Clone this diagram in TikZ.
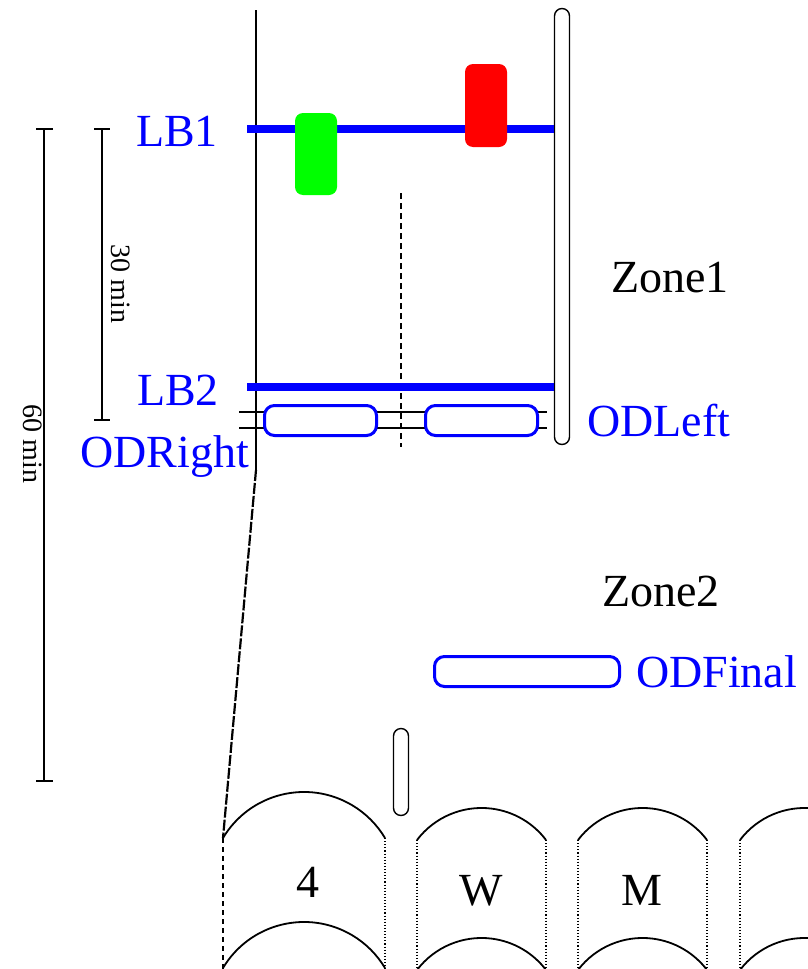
\documentclass[tikz,border=0pt]{standalone}
\usepackage{fontspec}
\setmainfont{Liberation Serif}
\begin{document}
\begin{tikzpicture}[x=1pt,y=-1pt,
  bluelbl/.style={text=blue, font=\fontsize{46}{55}\selectfont, inner sep=0pt, anchor=base west},
  zonelbl/.style={text=black, font=\fontsize{46}{55}\selectfont, inner sep=0pt, anchor=base west},
  celllbl/.style={text=black, font=\fontsize{46}{55}\selectfont, inner sep=0pt, anchor=base},
  dimlbl/.style={text=black, font=\fontsize{28}{32}\selectfont, inner sep=0pt, rotate=-90},
  thinline/.style={draw=black, line width=1.1pt},
  bluebar/.style={draw=blue, line width=7.5pt},
  oval/.style={draw=blue, line width=3pt, fill=white, rounded corners=10pt},
  pill/.style={draw=black, line width=1.4pt, fill=white, rounded corners=7.5pt},
  marker/.style={rounded corners=8pt},
  cellarc/.style={draw=black, line width=1.8pt},
  cellside/.style={draw=black, line width=1.1pt, dotted},
]
\useasboundingbox (0,0) rectangle (808,969);
\clip (0,0) rectangle (808,969);

% coordinates
\coordinate (topL) at (256,10);
\coordinate (bendL) at (256,470);
\coordinate (cellA) at (223,838);

% left vertical guide and slanted line to cell 1
\draw[thinline] (topL) -- (bendL);
\draw[draw=black, line width=2.2pt, dash pattern=on 11pt off 2pt] (bendL) -- (cellA);

% dashed middle line
\coordinate (midT) at (401,193);
\coordinate (midB) at (401,447);
\draw[thinline, dash pattern=on 6pt off 4pt] (midT) -- (midB);

% double black lines under OD ovals
\coordinate (dl1a) at (239,412); \coordinate (dl1b) at (547,412);
\coordinate (dl2a) at (239,428); \coordinate (dl2b) at (547,428);
\draw[thinline] (dl1a) -- (dl1b);
\draw[thinline] (dl2a) -- (dl2b);

% right pill
\draw[pill] (554.5,8.5) rectangle (569.5,444.5);

% blue bars
\coordinate (lb1a) at (247,129); \coordinate (lb1b) at (554,129);
\coordinate (lb2a) at (247,387); \coordinate (lb2b) at (554,387);
\draw[bluebar] (lb1a) -- (lb1b);
\draw[bluebar] (lb2a) -- (lb2b);

% green and red markers
\fill[marker, fill={rgb,255:red,0;green,255;blue,0}] (295,113) rectangle (337,195);
\fill[marker, fill={rgb,255:red,255;green,0;blue,0}] (465,64) rectangle (507,147);

% OD ovals
\draw[oval] (264.5,405.5) rectangle (376.5,435.5);
\draw[oval] (425.5,405.5) rectangle (537.5,435.5);
\draw[oval] (434.5,656.5) rectangle (619.5,686.5);

% small pill
\draw[pill] (393.5,728.5) rectangle (408.5,815.5);

% labels
\node[bluelbl] (LB1) at (136,146) {LB1};
\node[bluelbl] (LB2) at (137,405) {LB2};
\node[bluelbl] (ODRight) at (80,467) {ODRight};
\node[bluelbl] (ODLeft) at (587,436) {ODLeft};
\node[bluelbl] (ODFinal) at (636,687) {ODFinal};
\node[zonelbl] (Zone1) at (611,292) {Zone1};
\node[zonelbl] (Zone2) at (602,606) {Zone2};

% dimension bars
\coordinate (d30t) at (102,129); \coordinate (d30b) at (102,420);
\draw[thinline] (d30t) -- (d30b);
\draw[thinline] (94,129) -- (110,129);
\draw[thinline] (94,420) -- (110,420);
\node[dimlbl] (t30) at (121,284) {30 min};

\coordinate (d60t) at (44,129); \coordinate (d60b) at (44,781);
\draw[thinline] (d60t) -- (d60b);
\draw[thinline] (36,129) -- (53,129);
\draw[thinline] (36,781) -- (53,781);
\node[dimlbl] (t60) at (33,444) {60 min};

% cell 1
\draw[cellarc] (223,838) arc[start angle=210.8, end angle=329.2, radius=94.3];
\draw[cellarc] (223,968) arc[start angle=210.8, end angle=329.2, radius=94.3];
\draw[draw=black, line width=1.1pt, dash pattern=on 5pt off 4pt] (223,838) -- (223,969);
\draw[cellside] (385,838) -- (385,969);
\node[celllbl] (c4) at (308,897) {4};

% cells 2-4
\foreach \dx in {0,161,323} {
  \begin{scope}[xshift=\dx]
    \draw[cellarc] (417,840) arc[start angle=217.2, end angle=322.8, radius=81];
    \draw[cellarc] (417,970) arc[start angle=217.2, end angle=322.8, radius=81];
    \draw[cellside] (417,840) -- (417,969);
    \draw[cellside] (546,840) -- (546,969);
  \end{scope}
}
\node[celllbl] (cW) at (481,905) {W};
\node[celllbl] (cM) at (642,905) {M};
\end{tikzpicture}
\end{document}
